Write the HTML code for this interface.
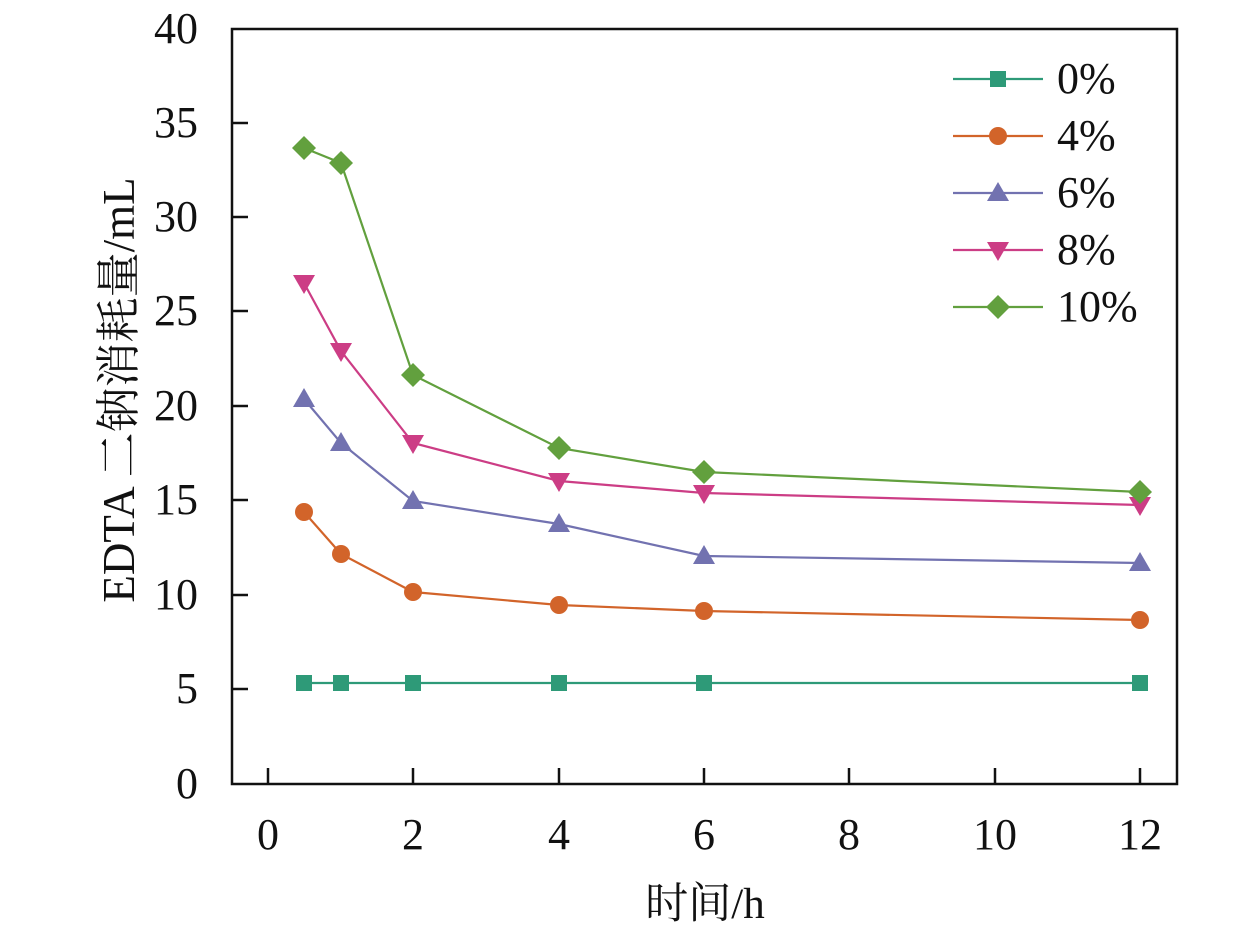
<!DOCTYPE html>
<html><head><meta charset="utf-8"><style>
html,body{margin:0;padding:0;background:#fff}
svg{display:block}
text{font-family:"Liberation Serif","Times New Roman",serif;fill:#111}
text.cjk{font-family:"Liberation Serif","Noto Serif CJK SC","Noto Sans CJK SC",serif}
</style></head>
<body>
<svg width="1259" height="937" viewBox="0 0 1259 937" xmlns="http://www.w3.org/2000/svg">
<defs>
<rect id="sq" x="-8" y="-8" width="16" height="16"/>
<circle id="ci" r="9"/>
<polygon id="tu" points="0,-11 11,8 -11,8"/>
<polygon id="td" points="0,11 11,-8 -11,-8"/>
<polygon id="di" points="0,-12 12,0 0,12 -12,0"/>
</defs>
<rect x="232" y="29" width="945" height="755" fill="none" stroke="#111" stroke-width="2.5"/>
<g stroke="#111" stroke-width="2.5">
<line x1="232" y1="689" x2="248" y2="689"/>
<line x1="232" y1="595" x2="248" y2="595"/>
<line x1="232" y1="500" x2="248" y2="500"/>
<line x1="232" y1="406" x2="248" y2="406"/>
<line x1="232" y1="311" x2="248" y2="311"/>
<line x1="232" y1="217" x2="248" y2="217"/>
<line x1="232" y1="123" x2="248" y2="123"/>
<line x1="268" y1="784" x2="268" y2="768"/>
<line x1="413" y1="784" x2="413" y2="768"/>
<line x1="559" y1="784" x2="559" y2="768"/>
<line x1="704" y1="784" x2="704" y2="768"/>
<line x1="849" y1="784" x2="849" y2="768"/>
<line x1="995" y1="784" x2="995" y2="768"/>
<line x1="1140" y1="784" x2="1140" y2="768"/>
</g>
<g font-size="44" text-anchor="end">
<text x="198" y="798">0</text>
<text x="198" y="703">5</text>
<text x="198" y="609">10</text>
<text x="198" y="514">15</text>
<text x="198" y="420">20</text>
<text x="198" y="325">25</text>
<text x="198" y="231">30</text>
<text x="198" y="137">35</text>
<text x="198" y="43">40</text>
</g>
<g font-size="44" text-anchor="middle">
<text x="268" y="849">0</text>
<text x="413" y="849">2</text>
<text x="559" y="849">4</text>
<text x="704" y="849">6</text>
<text x="849" y="849">8</text>
<text x="995" y="849">10</text>
<text x="1140" y="849">12</text>
</g>
<text class="cjk" x="705" y="918" font-size="43" text-anchor="middle">时间/h</text>
<text class="cjk" transform="translate(134,390) rotate(-90)" font-size="45" text-anchor="middle">EDTA 二钠消耗量/mL</text>

<g fill="none" stroke-width="2.2">
<polyline stroke="#2e9a78" points="304,683 341,683 413,683 559,683 704,683 1140,683"/>
<polyline stroke="#d2642a" points="304,512 341,554 413,592 559,605 704,611 1140,620"/>
<polyline stroke="#7272b0" points="304,399 341,443 413,501 559,524 704,556 1140,563"/>
<polyline stroke="#cc3d85" points="304,283 341,351 413,443 559,481 704,493 1140,505"/>
<polyline stroke="#62a03e" points="304,148 341,163 413,375 559,448 704,472 1140,492"/>
</g>
<g fill="#2e9a78">
<use href="#sq" x="304" y="683"/><use href="#sq" x="341" y="683"/><use href="#sq" x="413" y="683"/><use href="#sq" x="559" y="683"/><use href="#sq" x="704" y="683"/><use href="#sq" x="1140" y="683"/>
</g>
<g fill="#d2642a">
<use href="#ci" x="304" y="512"/><use href="#ci" x="341" y="554"/><use href="#ci" x="413" y="592"/><use href="#ci" x="559" y="605"/><use href="#ci" x="704" y="611"/><use href="#ci" x="1140" y="620"/>
</g>
<g fill="#7272b0">
<use href="#tu" x="304" y="399"/><use href="#tu" x="341" y="443"/><use href="#tu" x="413" y="501"/><use href="#tu" x="559" y="524"/><use href="#tu" x="704" y="556"/><use href="#tu" x="1140" y="563"/>
</g>
<g fill="#cc3d85">
<use href="#td" x="304" y="283"/><use href="#td" x="341" y="351"/><use href="#td" x="413" y="443"/><use href="#td" x="559" y="481"/><use href="#td" x="704" y="493"/><use href="#td" x="1140" y="505"/>
</g>
<g fill="#62a03e">
<use href="#di" x="304" y="148"/><use href="#di" x="341" y="163"/><use href="#di" x="413" y="375"/><use href="#di" x="559" y="448"/><use href="#di" x="704" y="472"/><use href="#di" x="1140" y="492"/>
</g>

<g stroke-width="2.2">
<line x1="953" y1="79" x2="1043" y2="79" stroke="#2e9a78"/>
<line x1="953" y1="136" x2="1043" y2="136" stroke="#d2642a"/>
<line x1="953" y1="193" x2="1043" y2="193" stroke="#7272b0"/>
<line x1="953" y1="250" x2="1043" y2="250" stroke="#cc3d85"/>
<line x1="953" y1="307" x2="1043" y2="307" stroke="#62a03e"/>
</g>
<use href="#sq" x="998" y="79" fill="#2e9a78"/>
<use href="#ci" x="998" y="136" fill="#d2642a"/>
<use href="#tu" x="998" y="193" fill="#7272b0"/>
<use href="#td" x="998" y="250" fill="#cc3d85"/>
<use href="#di" x="998" y="307" fill="#62a03e"/>
<g font-size="44">
<text x="1057" y="93">0%</text>
<text x="1057" y="150">4%</text>
<text x="1057" y="207">6%</text>
<text x="1057" y="264">8%</text>
<text x="1057" y="321">10%</text>
</g>
</svg>
</body></html>
